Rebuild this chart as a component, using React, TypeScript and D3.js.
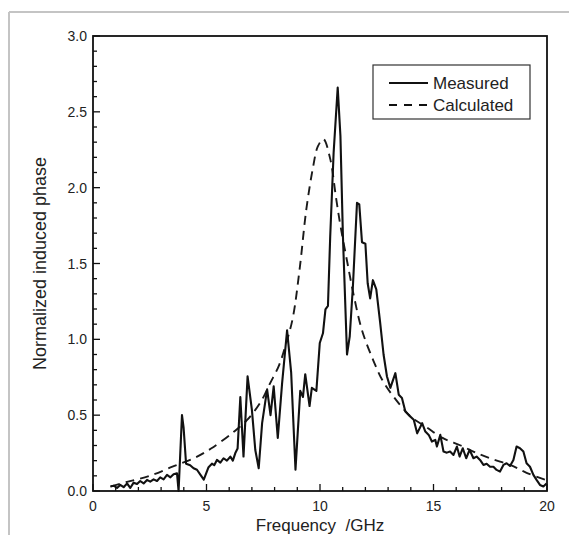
import React from "react";
import * as d3 from "d3";

const measuredFreq = [
  0.76, 0.91, 1.06, 1.2, 1.35, 1.5, 1.64, 1.79, 1.94, 2.08, 2.23, 2.38, 2.52, 2.67, 2.82, 2.96, 3.11, 3.26, 3.41, 3.55, 3.7,
  3.77, 3.92, 3.99, 4.1, 4.28, 4.43, 4.58, 4.72, 4.88, 5.09, 5.24, 5.34, 5.46, 5.61, 5.75, 5.9, 6.05, 6.16, 6.27, 6.37,
  6.49, 6.63, 6.81, 7.0, 7.15, 7.3, 7.45, 7.67, 7.82, 7.96, 8.14, 8.33, 8.55, 8.73, 8.92, 9.13, 9.25, 9.35, 9.54, 9.64,
  9.84, 9.99, 10.13, 10.24, 10.35, 10.45, 10.6, 10.78, 10.9, 11.01, 11.19, 11.31, 11.45, 11.63, 11.73, 11.85, 12.0, 12.1,
  12.21, 12.33, 12.48, 12.65, 12.8, 12.95, 13.1, 13.32, 13.47, 13.61, 13.76, 13.9, 14.13, 14.28, 14.5, 14.64, 14.79, 14.93,
  15.08, 15.15, 15.3, 15.44, 15.59, 15.73, 15.88, 16.03, 16.15, 16.29, 16.44, 16.59, 16.76, 16.9, 17.05, 17.2, 17.34, 17.49,
  17.64, 17.78, 17.93, 18.08, 18.22, 18.37, 18.52, 18.66, 18.81, 18.96, 19.1, 19.25, 19.4, 19.54, 19.69, 19.84, 19.98,
];
const measuredPhase = [
  0.03, 0.035, 0.02, 0.04, 0.025, 0.05, 0.02, 0.055, 0.046, 0.066, 0.05, 0.073, 0.062, 0.077, 0.066, 0.09, 0.077, 0.106, 0.09, 0.11, 0.117,
  0.0, 0.5, 0.42, 0.18, 0.17, 0.15, 0.14, 0.11, 0.075, 0.157, 0.18, 0.17, 0.205, 0.187, 0.216, 0.2, 0.227, 0.2, 0.25, 0.28,
  0.62, 0.227, 0.756, 0.535, 0.27, 0.15, 0.448, 0.67, 0.5, 0.69, 0.35, 0.71, 1.06, 0.78, 0.14, 0.66, 0.62, 0.77, 0.56, 0.68,
  0.66, 0.976, 1.04, 1.197, 1.22, 1.68, 2.23, 2.66, 2.34, 1.68, 0.9, 1.02, 1.35, 1.9, 1.89, 1.64, 1.63, 1.37,
  1.27, 1.39, 1.33, 1.11, 0.9, 0.755, 0.68, 0.777, 0.634, 0.613, 0.524, 0.502, 0.47, 0.38, 0.447, 0.392, 0.37, 0.326,
  0.337, 0.293, 0.37, 0.26, 0.253, 0.26, 0.238, 0.293, 0.227, 0.282, 0.216, 0.271, 0.216, 0.227, 0.205, 0.172, 0.18, 0.16,
  0.16, 0.139, 0.128, 0.172, 0.183, 0.165, 0.205, 0.293, 0.282, 0.26, 0.183, 0.16, 0.106, 0.073, 0.04, 0.03, 0.05,
];

const calcFreq = [
  0.8, 1.5, 2.5, 3.5, 4.5, 5.2, 6.2, 6.8, 7.4, 7.8, 8.2, 8.5, 8.8, 9.1, 9.4, 9.7, 9.9, 10.15, 10.45, 10.7, 10.9, 11.2,
  11.5, 11.85, 12.35, 12.75, 13.25, 14, 14.7, 15.4, 16.2, 16.9, 17.6, 18.4, 19.1, 19.9, 20,
];
const calcPhase = [
  0.03, 0.06, 0.1, 0.16, 0.22, 0.28, 0.39, 0.47, 0.59, 0.71, 0.83, 0.97, 1.14, 1.46, 1.86, 2.14, 2.27, 2.32, 2.19, 1.94, 1.75, 1.51,
  1.28, 1.06, 0.86, 0.73, 0.62, 0.49, 0.42, 0.35, 0.3, 0.25, 0.21, 0.17, 0.12, 0.075, 0.07,
];

const xMajorTicks = [0, 5, 10, 15, 20];
const yMajorTicks = [0, 0.5, 1.0, 1.5, 2.0, 2.5, 3.0];
const seriesNames = ["Measured", "Calculated"];
const xTitle = "Frequency  /GHz";
const yTitle = "Normalized induced phase";

export default function App() {
  const W = 569, H = 535;
  const left = 93, right = 547, top = 36, bottom = 491;
  const x = d3.scaleLinear().domain([0, 20]).range([left, right]);
  const y = d3.scaleLinear().domain([0, 3]).range([bottom, top]);
  const font = "'Liberation Sans', Arial, sans-serif";

  const line = d3.line<[number, number]>().x((d) => x(d[0])).y((d) => y(d[1]));
  const calcLine = d3
    .line<[number, number]>()
    .x((d) => x(d[0]))
    .y((d) => y(d[1]))
    .curve(d3.curveCatmullRom);

  const mData = measuredFreq.map((f, i) => [f, measuredPhase[i]] as [number, number]);
  const cData = calcFreq.map((f, i) => [f, calcPhase[i]] as [number, number]);

  const xMinor = d3.range(0, 21, 1);
  const yMinor = d3.range(0, 31, 1).map((v) => v / 10);

  return (
    <svg
      width={W}
      height={H}
      style={{ position: "absolute", left: 0, top: 0, background: "#fff" }}
    >
      <rect x={0} y={0} width={W} height={H} fill="#fff" />
      <line x1={9} y1={12} x2={W} y2={12} stroke="#c4c4c4" strokeWidth={2} />
      <line x1={9} y1={12} x2={9} y2={H} stroke="#c4c4c4" strokeWidth={2} />

      <path
        d={calcLine(cData) || ""}
        fill="none"
        stroke="#1a1a1a"
        strokeWidth={1.9}
        strokeDasharray="9,6"
      />
      <path
        d={line(mData) || ""}
        fill="none"
        stroke="#111"
        strokeWidth={2.1}
        strokeLinejoin="round"
      />

      {xMinor.map((t) => {
        const major = t % 5 === 0;
        return (
          <line
            key={"xt" + t}
            x1={x(t)}
            x2={x(t)}
            y1={bottom}
            y2={bottom - (major ? 7 : 4)}
            stroke="#111"
            strokeWidth={1.3}
          />
        );
      })}
      {yMinor.map((t, i) => {
        const major = i % 5 === 0;
        return (
          <line
            key={"yt" + i}
            x1={left}
            x2={left + (major ? 7 : 4)}
            y1={y(t)}
            y2={y(t)}
            stroke="#111"
            strokeWidth={1.3}
          />
        );
      })}

      <rect
        x={left}
        y={top}
        width={right - left}
        height={bottom - top}
        fill="none"
        stroke="#111"
        strokeWidth={1.8}
      />

      {xMajorTicks.map((t) => (
        <text
          key={"xl" + t}
          x={x(t)}
          y={bottom + 20}
          textAnchor="middle"
          fontFamily={font}
          fontSize={14}
          fill="#222"
        >
          {t}
        </text>
      ))}
      {yMajorTicks.map((t) => (
        <text
          key={"yl" + t}
          x={left - 6}
          y={y(t) + 5}
          textAnchor="end"
          fontFamily={font}
          fontSize={14}
          fill="#222"
        >
          {t.toFixed(1)}
        </text>
      ))}

      <text
        x={320}
        y={531}
        textAnchor="middle"
        fontFamily={font}
        fontSize={17}
        fill="#222"
        style={{ whiteSpace: "pre" }}
      >
        {xTitle}
      </text>
      <text
        transform={`translate(46, ${(top + bottom) / 2}) rotate(-90)`}
        textAnchor="middle"
        fontFamily={font}
        fontSize={18}
        fill="#222"
      >
        {yTitle}
      </text>

      <rect x={373} y={65} width={157} height={54} fill="#fff" stroke="#333" strokeWidth={1.2} />
      <line x1={389} x2={428} y1={83} y2={83} stroke="#111" strokeWidth={2} />
      <line x1={389} x2={428} y1={105} y2={105} stroke="#111" strokeWidth={1.9} strokeDasharray="8,7" />
      <text x={433} y={89} fontFamily={font} fontSize={17} fill="#222">
        {seriesNames[0]}
      </text>
      <text x={433} y={111} fontFamily={font} fontSize={17} fill="#222">
        {seriesNames[1]}
      </text>
    </svg>
  );
}
